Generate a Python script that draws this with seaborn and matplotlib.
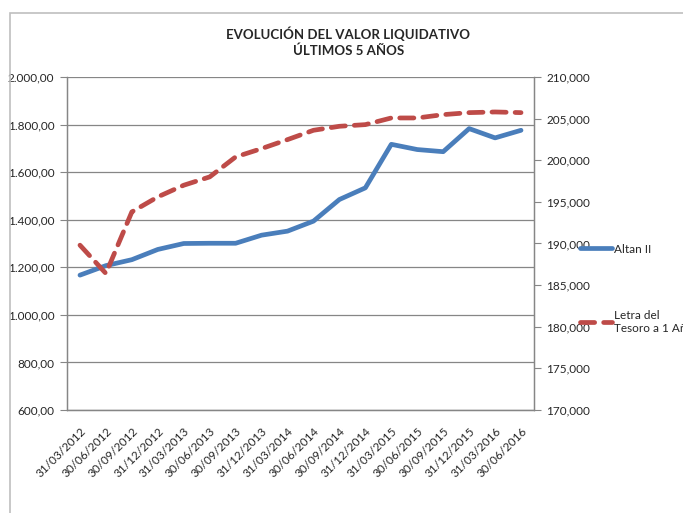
import seaborn as sns
import pandas as pd
import numpy as np
import matplotlib.pyplot as plt
import matplotlib.patches as patches
from matplotlib.ticker import FuncFormatter, FixedLocator
from matplotlib.lines import Line2D

fechas = ['31/03/2012', '30/06/2012', '30/09/2012', '31/12/2012',
          '31/03/2013', '30/06/2013', '30/09/2013', '31/12/2013',
          '31/03/2014', '30/06/2014', '30/09/2014', '31/12/2014',
          '31/03/2015', '30/06/2015', '30/09/2015', '31/12/2015',
          '31/03/2016', '30/06/2016']
altan = [1167, 1207, 1232, 1275, 1300, 1301, 1301, 1335, 1352, 1394,
         1485, 1534, 1717, 1695, 1686, 1783, 1744, 1776]
letra = [189800, 186400, 193800, 195600, 197000, 198000, 200400, 201400,
         202480, 203600, 204080, 204280, 205080, 205080, 205480, 205720,
         205800, 205720]

df = pd.DataFrame({'pos': np.arange(len(fechas)), 'fecha': fechas,
                   'altan': altan, 'letra': letra})

sns.set_style('white')
plt.rcParams['font.family'] = ['Lato', 'DejaVu Sans']

azul = '#4A7EBB'
rojo = '#BE4B48'
gris = '#868686'

fig = plt.figure(figsize=(6.83, 5.13), dpi=100)
ax = fig.add_axes([67/683, 1-410/513, (534-67)/683, (410-77)/513])
ax2 = ax.twinx()

sns.lineplot(data=df, x='pos', y='altan', ax=ax, color=azul, linewidth=3.4,
             solid_capstyle='round', legend=False)
sns.lineplot(data=df, x='pos', y='letra', ax=ax2, color=rojo, linewidth=3.4,
             dashes=False, legend=False)
ax2.lines[0].set_dashes([3.0, 1.9])
ax2.lines[0].set_dash_capstyle('round')

ax.set_xlim(-0.5, len(fechas) - 0.5)
ax.set_ylim(600, 2000)
ax.set_yticks(np.arange(600, 2001, 200))
ax2.set_ylim(170000, 210000)
ax2.set_yticks(np.arange(170000, 210001, 5000))

def fmt_izq(v, p):
    s = f'{v:,.2f}'
    return s.replace(',', 'X').replace('.', ',').replace('X', '.')

ax.yaxis.set_major_formatter(FuncFormatter(fmt_izq))
ax2.yaxis.set_major_formatter(FuncFormatter(lambda v, p: f'{v:,.0f}'))

ax.set_xticks(df['pos'])
ax.set_xticklabels(fechas, rotation=45, ha='right', rotation_mode='anchor')
ax.xaxis.set_minor_locator(FixedLocator(np.arange(-0.5, len(fechas), 1)))
ax.tick_params(axis='x', which='major', length=0, pad=11, labelsize=8.5)
ax.tick_params(axis='x', which='minor', length=5, color=gris, direction='out')
ax.tick_params(axis='y', length=5, color=gris, labelsize=8.5, pad=4, left=True)
ax2.tick_params(axis='y', length=5, color=gris, labelsize=8.5, pad=4, right=True)
ax.set_xlabel('')
ax.set_ylabel('')
ax2.set_ylabel('')

ax.grid(axis='y', color=gris, linewidth=0.9)
ax.grid(axis='x', visible=False)
ax2.grid(False)
for a in (ax, ax2):
    a.spines['top'].set_visible(False)
    for s in ('left', 'right', 'bottom'):
        a.spines[s].set_color(gris)
        a.spines[s].set_linewidth(0.9)

fig.text(0.51, 1-41.5/513, 'EVOLUCIÓN DEL VALOR LIQUIDATIVO\nÚLTIMOS 5 AÑOS',
         ha='center', va='center', fontsize=9.5, fontweight='bold',
         linespacing=1.3)

h1 = Line2D([], [], color=azul, linewidth=3.4, solid_capstyle='round')
h2 = Line2D([], [], color=rojo, linewidth=3.4, dashes=[3.0, 1.9],
            dash_capstyle='round')
fig.legend([h1, h2], ['Altan II', 'Letra del\nTesoro a 1 Año'],
           loc='upper left', bbox_to_anchor=(569/683, 1-233/513),
           frameon=False, fontsize=8.5, handlelength=2.7, handletextpad=0.2,
           labelspacing=4.7)

fig.patches.append(patches.Rectangle((10/683, -0.1), 1.2, 1.1 - 13/513,
                                     transform=fig.transFigure, fill=False,
                                     edgecolor='#BFBFBF', linewidth=1.2))

fig.savefig('out.png', dpi=100)
